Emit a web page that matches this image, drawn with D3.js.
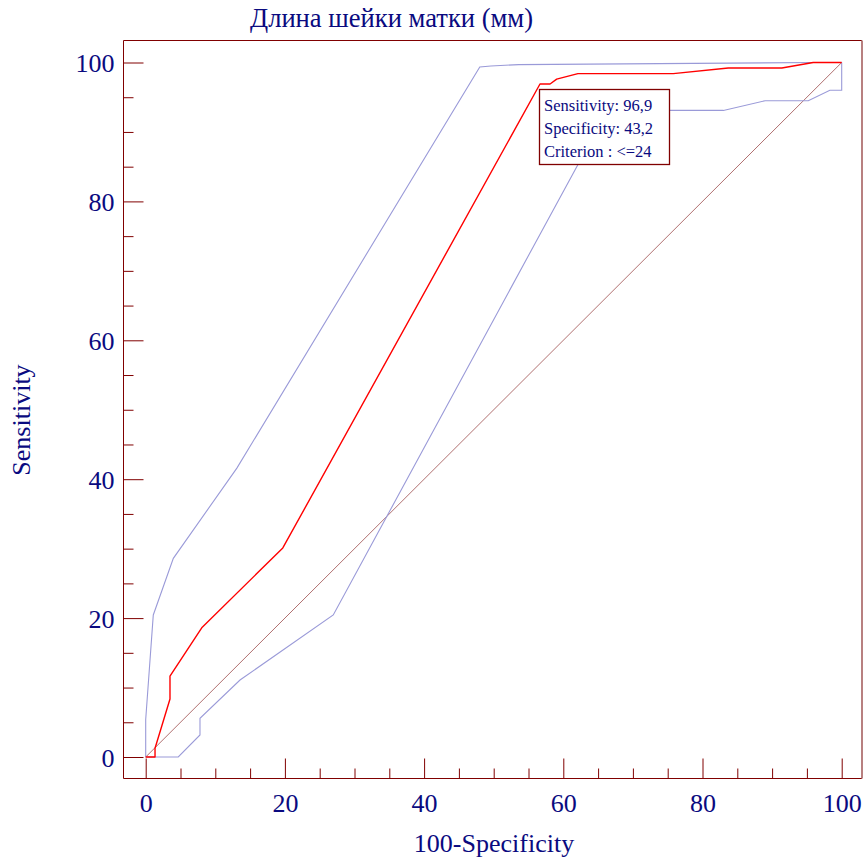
<!DOCTYPE html>
<html><head><meta charset="utf-8">
<script src="https://cdn.jsdelivr.net/npm/d3@7"></script>
<style>body{margin:0;background:#fff}svg{display:block}</style>
</head><body>
<script>
const title = "Длина шейки матки (мм)";
const xLabel = "100-Specificity";
const yLabel = "Sensitivity";
const majorTicks = [0, 20, 40, 60, 80, 100];
const minorTicks = [5,10,15,25,30,35,45,50,55,65,70,75,85,90,95];
// ROC curve: [100-Specificity, Sensitivity]
const rocX = [0, 1.34, 1.34, 3.49, 3.49, 8.05, 19.7, 56.65, 58.1, 59.05, 62.1, 75.8, 83.7, 91.4, 95.9, 100];
const rocY = [0, 0, 1.25, 8.35, 11.66, 18.6, 30.1, 96.9, 96.9, 97.6, 98.4, 98.4, 99.2, 99.2, 100, 100];
// Upper confidence bound
const upX = [0, 0, 1.09, 3.97, 13.1, 48.0, 49.6, 53.6, 95.9, 100];
const upY = [0, 5.4, 20.45, 28.6, 41.6, 99.35, 99.5, 99.7, 100, 100];
// Lower confidence bound
const loX = [0, 4.68, 7.8, 7.8, 13.55, 26.95, 62.15, 66.5, 83.0, 89.0, 95.2, 98.3, 100, 100];
const loY = [0, 0, 3.17, 5.57, 11.09, 20.45, 85.4, 93.1, 93.1, 94.5, 94.5, 96.0, 96.0, 100];
const diagX = [0, 100];
const diagY = [0, 100];
const infoLines = ["Sensitivity: 96,9", "Specificity: 43,2", "Criterion : <=24"];

const W = 867, H = 861;
const frame = {l: 123.5, t: 40.5, r: 862, b: 778.5};
const x = d3.scaleLinear().domain([0, 100]).range([145.7, 841.7]);
const y = d3.scaleLinear().domain([0, 100]).range([757, 62.5]);
const navy = "#0a0a80", dred = "#800000";
const font = "'Liberation Serif','Times New Roman',serif";

const svg = d3.select("body").append("svg").attr("width", W).attr("height", H);

const line = d3.line().x(d => x(d[0])).y(d => y(d[1]));
const zip = (a, b) => a.map((v, i) => [v, b[i]]);

svg.append("path").attr("d", line(zip(diagX, diagY))).attr("fill", "none")
  .attr("stroke", "#b07070").attr("stroke-width", 1);
svg.append("path").attr("d", line(zip(upX, upY))).attr("fill", "none")
  .attr("stroke", "#9a9ad8").attr("stroke-width", 1.1);
svg.append("path").attr("d", line(zip(loX, loY))).attr("fill", "none")
  .attr("stroke", "#9a9ad8").attr("stroke-width", 1.1);
svg.append("path").attr("d", line(zip(rocX, rocY))).attr("fill", "none")
  .attr("stroke", "#ff0000").attr("stroke-width", 1.4).attr("stroke-linejoin", "round");

// frame
svg.append("line").attr("x1", frame.l).attr("x2", frame.r).attr("y1", frame.t).attr("y2", frame.t).attr("stroke", dred);
svg.append("line").attr("x1", frame.l).attr("x2", frame.r).attr("y1", frame.b).attr("y2", frame.b).attr("stroke", dred);
svg.append("line").attr("x1", frame.l).attr("x2", frame.l).attr("y1", frame.t).attr("y2", frame.b).attr("stroke", dred);
svg.append("line").attr("x1", frame.r).attr("x2", frame.r).attr("y1", frame.t).attr("y2", frame.b).attr("stroke", "#b88080").attr("stroke-width", 2);

function styleAxis(g) {
  g.select(".domain").remove();
  g.selectAll(".tick line").attr("stroke", dred);
  g.selectAll(".tick text").attr("fill", navy).attr("font-family", font).attr("font-size", 26);
}
// minor ticks
svg.append("g").attr("transform", `translate(${frame.l},0)`)
  .call(d3.axisLeft(y).tickValues(minorTicks).tickSize(-10).tickFormat(""))
  .call(styleAxis);
svg.append("g").attr("transform", `translate(0,${frame.b})`)
  .call(d3.axisBottom(x).tickValues(minorTicks).tickSize(-10).tickFormat(""))
  .call(styleAxis);
// major ticks
svg.append("g").attr("transform", `translate(${frame.l},0)`)
  .call(d3.axisLeft(y).tickValues(majorTicks).tickSize(-20).tickPadding(9).tickFormat(d3.format("d")))
  .call(styleAxis)
  .selectAll(".tick text").attr("dy", "0.36em");
svg.append("g").attr("transform", `translate(0,${frame.b})`)
  .call(d3.axisBottom(x).tickValues(majorTicks).tickSize(-20).tickPadding(15).tickFormat(d3.format("d")))
  .call(styleAxis);

// titles
svg.append("text").attr("x", 391.5).attr("y", 27).attr("text-anchor", "middle")
  .attr("font-family", font).attr("font-size", 28).attr("fill", navy)
  .attr("textLength", 283).attr("lengthAdjust", "spacingAndGlyphs").text(title);
svg.append("text").attr("x", 494).attr("y", 852).attr("text-anchor", "middle")
  .attr("font-family", font).attr("font-size", 26).attr("fill", navy).text(xLabel);
svg.append("text").attr("transform", "translate(30,420) rotate(-90)").attr("text-anchor", "middle")
  .attr("font-family", font).attr("font-size", 26).attr("fill", navy).text(yLabel);

// info box
const box = svg.append("g");
box.append("rect").attr("x", 539.5).attr("y", 89.5).attr("width", 130).attr("height", 75)
  .attr("fill", "#fff").attr("stroke", dred).attr("stroke-width", 1.3);
box.selectAll("text").data(infoLines).join("text")
  .attr("x", 544).attr("y", (d, i) => 111 + i * 23)
  .attr("font-family", font).attr("font-size", 16.5).attr("fill", navy).text(d => d);
</script>
</body></html>
